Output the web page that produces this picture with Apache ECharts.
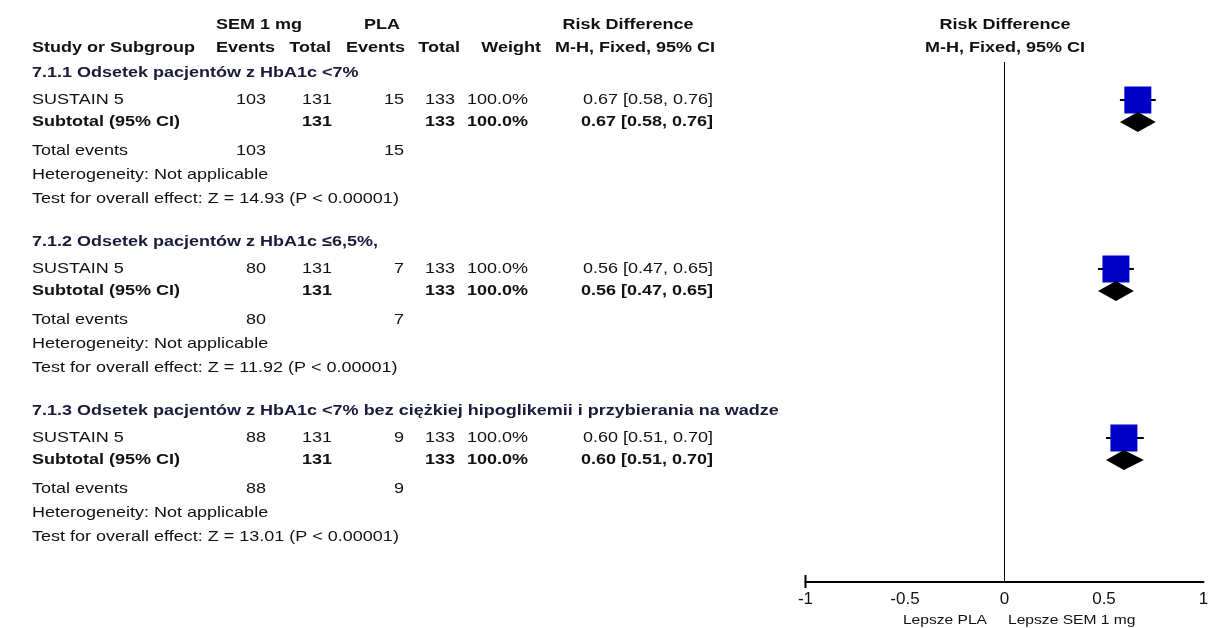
<!DOCTYPE html>
<html>
<head>
<meta charset="utf-8">
<script src="https://cdn.jsdelivr.net/npm/echarts@6/dist/echarts.min.js"></script>
<style>
  html, body { margin: 0; padding: 0; background: #fff; }
  #chart { width: 1215px; height: 628px; }
</style>
</head>
<body>
<div id="chart"></div>
<script>
// ---- Data: semaglutide 1 mg vs placebo, risk difference (M-H, fixed) ----
const subgroupTitles = [
  '7.1.1 Odsetek pacjentów z HbA1c <7%',
  '7.1.2 Odsetek pacjentów z HbA1c ≤6,5%,',
  '7.1.3 Odsetek pacjentów z HbA1c <7% bez ciężkiej hipoglikemii i przybierania na wadze'
];
const studyNames = ['SUSTAIN 5', 'SUSTAIN 5', 'SUSTAIN 5'];
const semEvents = [103, 80, 88];
const semTotal = [131, 131, 131];
const plaEvents = [15, 7, 9];
const plaTotal = [133, 133, 133];
const weights = [100, 100, 100];
const rdEst = [0.67, 0.56, 0.60];
const rdLow = [0.58, 0.47, 0.51];
const rdHigh = [0.76, 0.65, 0.70];
const zValues = ['14.93', '11.92', '13.01'];
const xTicks = [-1, -0.5, 0, 0.5, 1];
const favourLabels = ['Lepsze PLA', 'Lepsze SEM 1 mg'];

// ---- Layout ----
const FONT = 'Liberation Sans';
const fs = 15;          // text height
const stretch = 1.2;    // wide glyph proportion of the table text
const blockTop = [73, 242, 411];
const off = { title: 0, study: 27, subtotal: 49, events: 78, het: 102, test: 126 };
const col = {
  name: 32, semEv: 266, semTot: 332, plaEv: 404, plaTot: 455, weight: 528, rd: 713
};
const axisY = 582;

function fmt2(v) { return v.toFixed(2); }
function ciText(i) { return fmt2(rdEst[i]) + ' [' + fmt2(rdLow[i]) + ', ' + fmt2(rdHigh[i]) + ']'; }
function txt(x, y, s, opt) {
  opt = opt || {};
  return {
    type: 'text', x: x, y: y, scaleX: stretch, silent: true,
    style: {
      text: String(s),
      font: (opt.bold ? 'bold ' : '') + (opt.size || fs) + 'px "' + FONT + '"',
      fill: opt.color || '#111',
      align: opt.align || 'left',
      verticalAlign: 'middle'
    }
  };
}

const texts = [];
// column headers
texts.push(txt(259, 25, 'SEM 1 mg', { bold: true, align: 'center' }));
texts.push(txt(382, 25, 'PLA', { bold: true, align: 'center' }));
texts.push(txt(628, 25, 'Risk Difference', { bold: true, align: 'center' }));
texts.push(txt(1005, 25, 'Risk Difference', { bold: true, align: 'center' }));
texts.push(txt(32, 48, 'Study or Subgroup', { bold: true }));
texts.push(txt(275, 48, 'Events', { bold: true, align: 'right' }));
texts.push(txt(331, 48, 'Total', { bold: true, align: 'right' }));
texts.push(txt(405, 48, 'Events', { bold: true, align: 'right' }));
texts.push(txt(460, 48, 'Total', { bold: true, align: 'right' }));
texts.push(txt(541, 48, 'Weight', { bold: true, align: 'right' }));
texts.push(txt(715, 48, 'M-H, Fixed, 95% CI', { bold: true, align: 'right' }));
texts.push(txt(1005, 48, 'M-H, Fixed, 95% CI', { bold: true, align: 'center' }));

subgroupTitles.forEach(function (title, i) {
  const y0 = blockTop[i];
  texts.push(txt(col.name, y0 + off.title, title, { bold: true, color: '#1a1a3a' }));
  // study row
  const ys = y0 + off.study;
  texts.push(txt(col.name, ys, studyNames[i]));
  texts.push(txt(col.semEv, ys, semEvents[i], { align: 'right' }));
  texts.push(txt(col.semTot, ys, semTotal[i], { align: 'right' }));
  texts.push(txt(col.plaEv, ys, plaEvents[i], { align: 'right' }));
  texts.push(txt(col.plaTot, ys, plaTotal[i], { align: 'right' }));
  texts.push(txt(col.weight, ys, weights[i].toFixed(1) + '%', { align: 'right' }));
  texts.push(txt(col.rd, ys, ciText(i), { align: 'right' }));
  // subtotal row
  const yt = y0 + off.subtotal;
  texts.push(txt(col.name, yt, 'Subtotal (95% CI)', { bold: true }));
  texts.push(txt(col.semTot, yt, semTotal[i], { bold: true, align: 'right' }));
  texts.push(txt(col.plaTot, yt, plaTotal[i], { bold: true, align: 'right' }));
  texts.push(txt(col.weight, yt, weights[i].toFixed(1) + '%', { bold: true, align: 'right' }));
  texts.push(txt(col.rd, yt, ciText(i), { bold: true, align: 'right' }));
  // totals and tests
  const ye = y0 + off.events;
  texts.push(txt(col.name, ye, 'Total events'));
  texts.push(txt(col.semEv, ye, semEvents[i], { align: 'right' }));
  texts.push(txt(col.plaEv, ye, plaEvents[i], { align: 'right' }));
  texts.push(txt(col.name, y0 + off.het, 'Heterogeneity: Not applicable'));
  texts.push(txt(col.name, y0 + off.test, 'Test for overall effect: Z = ' + zValues[i] + ' (P < 0.00001)'));
});

// favour labels under the axis
texts.push(txt(987, 620, favourLabels[0], { size: 13, align: 'right' }));
texts.push(txt(1008, 620, favourLabels[1], { size: 13, align: 'left' }));

// ---- Forest marks ----
const studyData = rdEst.map(function (v, i) {
  return [v, rdLow[i], rdHigh[i], blockTop[i] + off.study, weights[i]];
});
const diamondData = rdEst.map(function (v, i) {
  return [v, rdLow[i], rdHigh[i], blockTop[i] + off.subtotal];
});

const chart = echarts.init(document.getElementById('chart'), null, { renderer: 'canvas' });
chart.setOption({
  animation: false,
  backgroundColor: '#fff',
  grid: { left: 805.5, right: 11.5, top: 0, bottom: 628 - axisY, containLabel: false },
  xAxis: {
    type: 'value', min: -1, max: 1, interval: 0.5,
    axisLine: { show: true, onZero: false, lineStyle: { color: '#000', width: 2 } },
    axisTick: { show: false },
    splitLine: { show: false },
    axisLabel: {
      margin: 9, color: '#111', fontFamily: FONT, fontSize: 17,
      formatter: function (v) { return xTicks.indexOf(v) >= 0 ? String(v) : ''; }
    }
  },
  yAxis: { type: 'value', min: 0, max: axisY, inverse: true, show: false },
  graphic: texts,
  series: [
    { // line of no effect
      type: 'line', data: [[0, 62], [0, axisY]], symbol: 'none', silent: true,
      lineStyle: { color: '#000', width: 1 }, z: 1
    },
    { // end tick at the left of the axis
      type: 'line', data: [[-1, axisY - 7], [-1, axisY + 6]], symbol: 'none', clip: false,
      silent: true, lineStyle: { color: '#000', width: 2 }, z: 3
    },
    { // study estimates: CI whisker plus weighted square
      type: 'custom', clip: false, z: 4,
      renderItem: function (params, api) {
        const c = api.coord([api.value(0), api.value(3)]);
        const lo = api.coord([api.value(1), api.value(3)]);
        const hi = api.coord([api.value(2), api.value(3)]);
        const side = 27 * Math.sqrt(api.value(4) / 100);
        return {
          type: 'group', children: [
            { type: 'line', shape: { x1: lo[0], y1: c[1], x2: hi[0], y2: c[1] },
              style: { stroke: '#000', lineWidth: 2 } },
            { type: 'rect', shape: { x: c[0] - side / 2, y: c[1] - side / 2, width: side, height: side },
              style: { fill: '#0000c8' } }
          ]
        };
      },
      encode: { x: [0, 1, 2], y: 3 },
      data: studyData
    },
    { // pooled estimates: diamonds
      type: 'custom', clip: false, z: 4,
      renderItem: function (params, api) {
        const c = api.coord([api.value(0), api.value(3)]);
        const lo = api.coord([api.value(1), api.value(3)]);
        const hi = api.coord([api.value(2), api.value(3)]);
        const h = 10;
        return {
          type: 'polygon',
          shape: { points: [[lo[0], c[1]], [c[0], c[1] - h], [hi[0], c[1]], [c[0], c[1] + h]] },
          style: { fill: '#000' }
        };
      },
      encode: { x: [0, 1, 2], y: 3 },
      data: diamondData
    }
  ]
});
</script>
</body>
</html>
